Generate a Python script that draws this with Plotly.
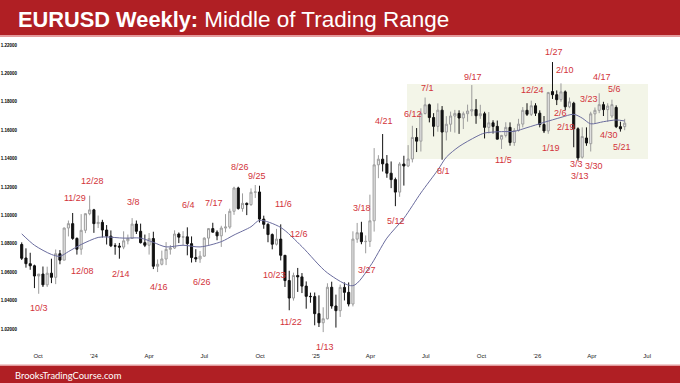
import pandas as pd
import plotly.graph_objects as go

# ---------------- data (weekly EURUSD) ----------------
week_start = "2023-09-04"

opens = [
    1.0795, 1.0700, 1.0660, 1.0645, 1.0573, 1.0587, 1.0511, 1.0593, 1.0564, 1.0730,
    1.0685, 1.0911, 1.0942, 1.0838, 1.0762, 1.0895, 1.1012, 1.1039, 1.0942, 1.0951,
    1.0897, 1.0854, 1.0786, 1.0784, 1.0777, 1.0821, 1.0838, 1.0939, 1.0888, 1.0808,
    1.0790, 1.0837, 1.0642, 1.0656, 1.0693, 1.0761, 1.0770, 1.0869, 1.0847, 1.0849,
    1.0801, 1.0703, 1.0693, 1.0713, 1.0840, 1.0907, 1.0882, 1.0856, 1.0911, 1.0918,
    1.1029, 1.1193, 1.1048, 1.1085, 1.1076, 1.1163, 1.1165, 1.0974, 1.0937, 1.0865,
    1.0797, 1.0833, 1.0719, 1.0541, 1.0418, 1.0577, 1.0567, 1.0502, 1.0430, 1.0428,
    1.0308, 1.0244, 1.0272, 1.0494, 1.0362, 1.0329, 1.0493, 1.0458, 1.0376, 1.0833,
    1.0878, 1.0815, 1.0817, 1.0962, 1.1356, 1.1396, 1.1363, 1.1297, 1.1252, 1.1164,
    1.1362, 1.1348, 1.1397, 1.1549, 1.1523, 1.1718, 1.1779, 1.1689, 1.1627, 1.1741,
    1.1587, 1.1642, 1.1700, 1.1718, 1.1686, 1.1716, 1.1735, 1.1745, 1.1702, 1.1716,
    1.1620, 1.1652, 1.1627, 1.1537, 1.1563, 1.1620, 1.1513, 1.1598, 1.1643, 1.1740,
    1.1712, 1.1772, 1.1720, 1.1640, 1.1595, 1.1872, 1.1850, 1.1815, 1.1870, 1.1765,
    1.1790, 1.1610, 1.1410, 1.1545, 1.1505, 1.1715, 1.1740, 1.1780, 1.1745, 1.1700,
    1.1760, 1.1625, 1.1625,
]
highs = [
    1.0810, 1.0768, 1.0737, 1.0653, 1.0575, 1.0640, 1.0639, 1.0695, 1.0760, 1.0756,
    1.0914, 1.0964, 1.1017, 1.0845, 1.1009, 1.1013, 1.1139, 1.1046, 1.0999, 1.0969,
    1.0932, 1.0894, 1.0804, 1.0806, 1.0888, 1.0865, 1.0981, 1.0964, 1.0942, 1.0865,
    1.0876, 1.0885, 1.0690, 1.0752, 1.0812, 1.0791, 1.0895, 1.0880, 1.0889, 1.0916,
    1.0852, 1.0762, 1.0749, 1.0845, 1.0910, 1.0948, 1.0895, 1.0927, 1.1009, 1.1047,
    1.1202, 1.1202, 1.1155, 1.1091, 1.1190, 1.1214, 1.1209, 1.0998, 1.0945, 1.0873,
    1.0905, 1.0937, 1.0720, 1.0610, 1.0597, 1.0630, 1.0594, 1.0535, 1.0456, 1.0457,
    1.0437, 1.0353, 1.0522, 1.0533, 1.0442, 1.0513, 1.0528, 1.0528, 1.0888, 1.0947,
    1.0955, 1.0859, 1.1146, 1.1474, 1.1424, 1.1573, 1.1425, 1.1380, 1.1266, 1.1375,
    1.1420, 1.1495, 1.1631, 1.1615, 1.1754, 1.1830, 1.1787, 1.1720, 1.1789, 1.1770,
    1.1699, 1.1731, 1.1743, 1.1740, 1.1731, 1.1780, 1.1918, 1.1819, 1.1779, 1.1730,
    1.1728, 1.1670, 1.1668, 1.1567, 1.1656, 1.1655, 1.1615, 1.1680, 1.1763, 1.1790,
    1.1808, 1.1790, 1.1740, 1.1700, 1.1870, 1.2080, 1.1880, 1.1930, 1.1880, 1.1830,
    1.1800, 1.1620, 1.1620, 1.1620, 1.1730, 1.1760, 1.1860, 1.1800, 1.1790, 1.1815,
    1.1775, 1.1660, 1.1680,
]
lows = [
    1.0686, 1.0632, 1.0617, 1.0488, 1.0448, 1.0496, 1.0496, 1.0523, 1.0516, 1.0656,
    1.0685, 1.0852, 1.0828, 1.0724, 1.0723, 1.0875, 1.1001, 1.0877, 1.0911, 1.0844,
    1.0795, 1.0777, 1.0723, 1.0695, 1.0762, 1.0796, 1.0835, 1.0869, 1.0802, 1.0777,
    1.0724, 1.0622, 1.0601, 1.0648, 1.0650, 1.0724, 1.0764, 1.0805, 1.0788, 1.0719,
    1.0668, 1.0671, 1.0666, 1.0709, 1.0792, 1.0880, 1.0825, 1.0778, 1.0881, 1.0906,
    1.1004, 1.1041, 1.1026, 1.1002, 1.1067, 1.1123, 1.0950, 1.0906, 1.0811, 1.0761,
    1.0788, 1.0683, 1.0496, 1.0332, 1.0400, 1.0461, 1.0453, 1.0343, 1.0385, 1.0226,
    1.0214, 1.0178, 1.0267, 1.0343, 1.0210, 1.0285, 1.0401, 1.0359, 1.0359, 1.0807,
    1.0797, 1.0733, 1.0778, 1.0886, 1.1262, 1.1309, 1.1265, 1.1192, 1.1065, 1.1131,
    1.1210, 1.1340, 1.1373, 1.1446, 1.1450, 1.1711, 1.1655, 1.1556, 1.1589, 1.1392,
    1.1528, 1.1589, 1.1583, 1.1574, 1.1608, 1.1660, 1.1699, 1.1645, 1.1680, 1.1542,
    1.1577, 1.1576, 1.1536, 1.1468, 1.1549, 1.1491, 1.1490, 1.1590, 1.1620, 1.1700,
    1.1700, 1.1700, 1.1620, 1.1580, 1.1575, 1.1820, 1.1777, 1.1800, 1.1740, 1.1755,
    1.1480, 1.1385, 1.1400, 1.1490, 1.1450, 1.1650, 1.1720, 1.1700, 1.1660, 1.1685,
    1.1615, 1.1590, 1.1600,
]
closes = [
    1.0698, 1.0660, 1.0645, 1.0573, 1.0587, 1.0511, 1.0593, 1.0564, 1.0730, 1.0685,
    1.0911, 1.0942, 1.0838, 1.0762, 1.0895, 1.1012, 1.1039, 1.0942, 1.0951, 1.0897,
    1.0854, 1.0786, 1.0784, 1.0777, 1.0821, 1.0838, 1.0939, 1.0888, 1.0808, 1.0790,
    1.0837, 1.0642, 1.0656, 1.0693, 1.0761, 1.0770, 1.0869, 1.0847, 1.0849, 1.0801,
    1.0703, 1.0693, 1.0713, 1.0840, 1.0907, 1.0882, 1.0856, 1.0911, 1.0918, 1.1029,
    1.1193, 1.1048, 1.1085, 1.1076, 1.1163, 1.1165, 1.0974, 1.0937, 1.0865, 1.0797,
    1.0833, 1.0719, 1.0541, 1.0418, 1.0577, 1.0567, 1.0502, 1.0430, 1.0428, 1.0308,
    1.0244, 1.0272, 1.0494, 1.0362, 1.0329, 1.0493, 1.0458, 1.0376, 1.0833, 1.0878,
    1.0815, 1.0817, 1.0962, 1.1356, 1.1396, 1.1363, 1.1297, 1.1252, 1.1164, 1.1362,
    1.1348, 1.1397, 1.1549, 1.1523, 1.1718, 1.1779, 1.1689, 1.1627, 1.1741, 1.1587,
    1.1642, 1.1700, 1.1718, 1.1686, 1.1716, 1.1735, 1.1745, 1.1702, 1.1716, 1.1620,
    1.1652, 1.1627, 1.1537, 1.1563, 1.1620, 1.1513, 1.1598, 1.1643, 1.1740, 1.1712,
    1.1772, 1.1720, 1.1640, 1.1595, 1.1865, 1.1850, 1.1815, 1.1870, 1.1765, 1.1800,
    1.1610, 1.1405, 1.1555, 1.1510, 1.1715, 1.1740, 1.1780, 1.1745, 1.1770, 1.1780,
    1.1625, 1.1610, 1.1650,
]

# 20-week moving average
ma_dates = [
    "2023-09-04", "2023-09-25", "2023-10-23", "2023-11-06", "2023-11-20", "2023-12-11",
    "2024-01-08", "2024-01-22", "2024-02-19", "2024-03-18", "2024-04-08", "2024-04-29",
    "2024-05-27", "2024-06-24", "2024-07-29", "2024-08-19", "2024-09-16", "2024-09-30",
    "2024-11-04", "2024-12-09", "2025-01-20", "2025-03-03", "2025-03-31", "2025-04-28",
    "2025-05-26", "2025-06-23", "2025-07-21", "2025-08-04", "2025-08-25", "2025-09-22",
    "2025-10-06", "2025-11-03", "2025-11-24", "2025-12-15", "2026-01-12", "2026-02-09",
    "2026-03-02", "2026-03-16", "2026-03-30", "2026-04-20", "2026-05-11", "2026-05-25",
]
ma_values = [
    1.0870, 1.0790, 1.0725, 1.0712, 1.0745, 1.0795,
    1.0845, 1.0848, 1.0840, 1.0840, 1.0810, 1.0778,
    1.0790, 1.0778, 1.0815, 1.0862, 1.0920, 1.0965,
    1.0915, 1.0780, 1.0595, 1.0505, 1.0640, 1.0840,
    1.0980, 1.1158, 1.1320, 1.1410, 1.1485, 1.1554,
    1.1580, 1.1590, 1.1592, 1.1618, 1.1655, 1.1690,
    1.1712, 1.1685, 1.1645, 1.1660, 1.1672, 1.1665,
]

# x-axis tick labels
tick_dates = ["2023-10-01", "2024-01-01", "2024-04-01", "2024-07-01", "2024-10-01",
              "2025-01-01", "2025-04-01", "2025-07-01", "2025-10-01", "2026-01-01",
              "2026-04-01", "2026-07-01"]
tick_text = ["Oct", "'24", "Apr", "Jul", "Oct", "'25", "Apr", "Jul", "Oct", "'26", "Apr", "Jul"]

# swing-point labels (text, pixel x, pixel y)
swing_labels = [
    ("10/3", 39, 308), ("11/29", 75, 198), ("12/28", 92, 181), ("12/08", 82, 271),
    ("2/14", 121, 274), ("3/8", 133, 202), ("4/16", 159, 287), ("6/4", 188, 205),
    ("6/26", 202, 282), ("7/17", 214, 203), ("8/26", 240, 167), ("9/25", 257, 176),
    ("11/6", 283, 204), ("12/6", 299, 234), ("10/23", 274, 275), ("11/22", 291, 322),
    ("1/13", 325, 347), ("3/18", 362, 208), ("3/27", 367, 270), ("5/12", 396, 221),
    ("4/21", 384, 121), ("6/12", 413, 114), ("7/1", 427, 88), ("8/1", 443, 171),
    ("9/17", 473, 77), ("11/5", 503, 160), ("12/24", 532, 90), ("1/19", 551, 148),
    ("1/27", 554, 52), ("2/10", 565, 70), ("2/6", 560, 113), ("2/19", 566, 127),
    ("3/3", 576, 164), ("3/13", 580, 176), ("3/30", 594, 166), ("3/23", 589, 99),
    ("4/17", 602, 77), ("5/6", 614, 89), ("4/30", 609, 135), ("5/21", 622, 147),
]

# ---------------- layout geometry ----------------
W, H = 680, 383
L, R, T, B = 19, 672, 40, 351        # plot-area pixel edges
anchor = pd.Timestamp("2023-10-02")  # date at pixel x = 38.7
anchor_px = 38.7
px_per_day = 0.6066
y_px_top, p_top = 45.0, 1.22         # 1.22000 label row
px_per_unit = 1420.0

SANS = "Liberation Sans, Arial, sans-serif"


def px_date(px):
    return anchor + pd.Timedelta(days=(px - anchor_px) / px_per_day)


def px_price(py):
    return p_top - (py - y_px_top) / px_per_unit


def fx(px):
    return (px - L) / (R - L)


def fy(py):
    return (B - py) / (B - T)


dates = pd.date_range(week_start, periods=len(closes), freq="W-MON")

fig = go.Figure()
fig.add_trace(go.Candlestick(
    x=dates, open=opens, high=highs, low=lows, close=closes,
    increasing=dict(line=dict(color="#9C9C9C", width=1), fillcolor="#EDEDED"),
    decreasing=dict(line=dict(color="#111111", width=1), fillcolor="#111111"),
    whiskerwidth=0, showlegend=False, hoverinfo="skip",
))
fig.add_trace(go.Scatter(
    x=pd.to_datetime(ma_dates), y=ma_values, mode="lines",
    line=dict(color="#6A6C9E", width=1, shape="spline", smoothing=0.8),
    showlegend=False, hoverinfo="skip",
))

shapes = [
    # trading-range box
    dict(type="rect", xref="x", yref="y", x0=px_date(407), x1=px_date(648),
         y0=px_price(159), y1=px_price(84), fillcolor="#F3F5E8",
         line=dict(width=0), layer="below"),
    # header band
    dict(type="rect", xref="paper", yref="paper", x0=fx(0), x1=fx(W),
         y0=fy(35), y1=fy(0), fillcolor="#B01F24", line=dict(width=0)),
    dict(type="rect", xref="paper", yref="paper", x0=fx(0), x1=fx(W),
         y0=fy(37), y1=fy(35), fillcolor="#E39A9C", line=dict(width=0)),
    # footer band
    dict(type="rect", xref="paper", yref="paper", x0=fx(0), x1=fx(W),
         y0=fy(H), y1=fy(366), fillcolor="#B01F24", line=dict(width=0)),
    dict(type="rect", xref="paper", yref="paper", x0=fx(0), x1=fx(W),
         y0=fy(366), y1=fy(364.5), fillcolor="#E39A9C", line=dict(width=0)),
]

annotations = [
    dict(text="<b>EURUSD Weekly:</b> <span style='font-size:22.5px'>Middle of Trading Range</span>",
         xref="paper", yref="paper",
         x=fx(16), y=fy(19), xanchor="left", yanchor="middle", showarrow=False,
         font=dict(family=SANS, size=21.8, color="white")),
    dict(text="BrooksTradingCourse.com", xref="paper", yref="paper",
         x=fx(13), y=fy(375), xanchor="left", yanchor="middle", showarrow=False,
         font=dict(family="Lato, Open Sans, sans-serif", size=9.4, color="white")),
]
for txt, px, py in swing_labels:
    annotations.append(dict(
        text=txt, xref="paper", yref="paper", x=fx(px), y=fy(py),
        xanchor="center", yanchor="middle", showarrow=False,
        font=dict(family=SANS, size=9, color="#D2333A")))

fig.update_layout(
    width=W, height=H,
    margin=dict(l=L, r=W - R, t=T, b=H - B, autoexpand=False),
    paper_bgcolor="white", plot_bgcolor="white",
    shapes=shapes, annotations=annotations,
    xaxis=dict(
        type="date", range=[px_date(L), px_date(R)], automargin=False,
        tickvals=pd.to_datetime(tick_dates), ticktext=tick_text,
        showgrid=False, zeroline=False, showline=False, ticks="",
        rangeslider=dict(visible=False),
        tickfont=dict(family=SANS, size=6, color="#222222"),
    ),
    yaxis=dict(
        range=[px_price(B), px_price(T)], dtick=0.02, tick0=1.0, tickformat=".5f",
        automargin=False, ticklabelstandoff=1,
        showgrid=False, zeroline=False, showline=False, ticks="",
        tickfont=dict(family="Liberation Sans, Arial, sans-serif", size=4.5, color="#000000",
                      weight="bold"),
    ),
)

fig.write_html("out.html")
